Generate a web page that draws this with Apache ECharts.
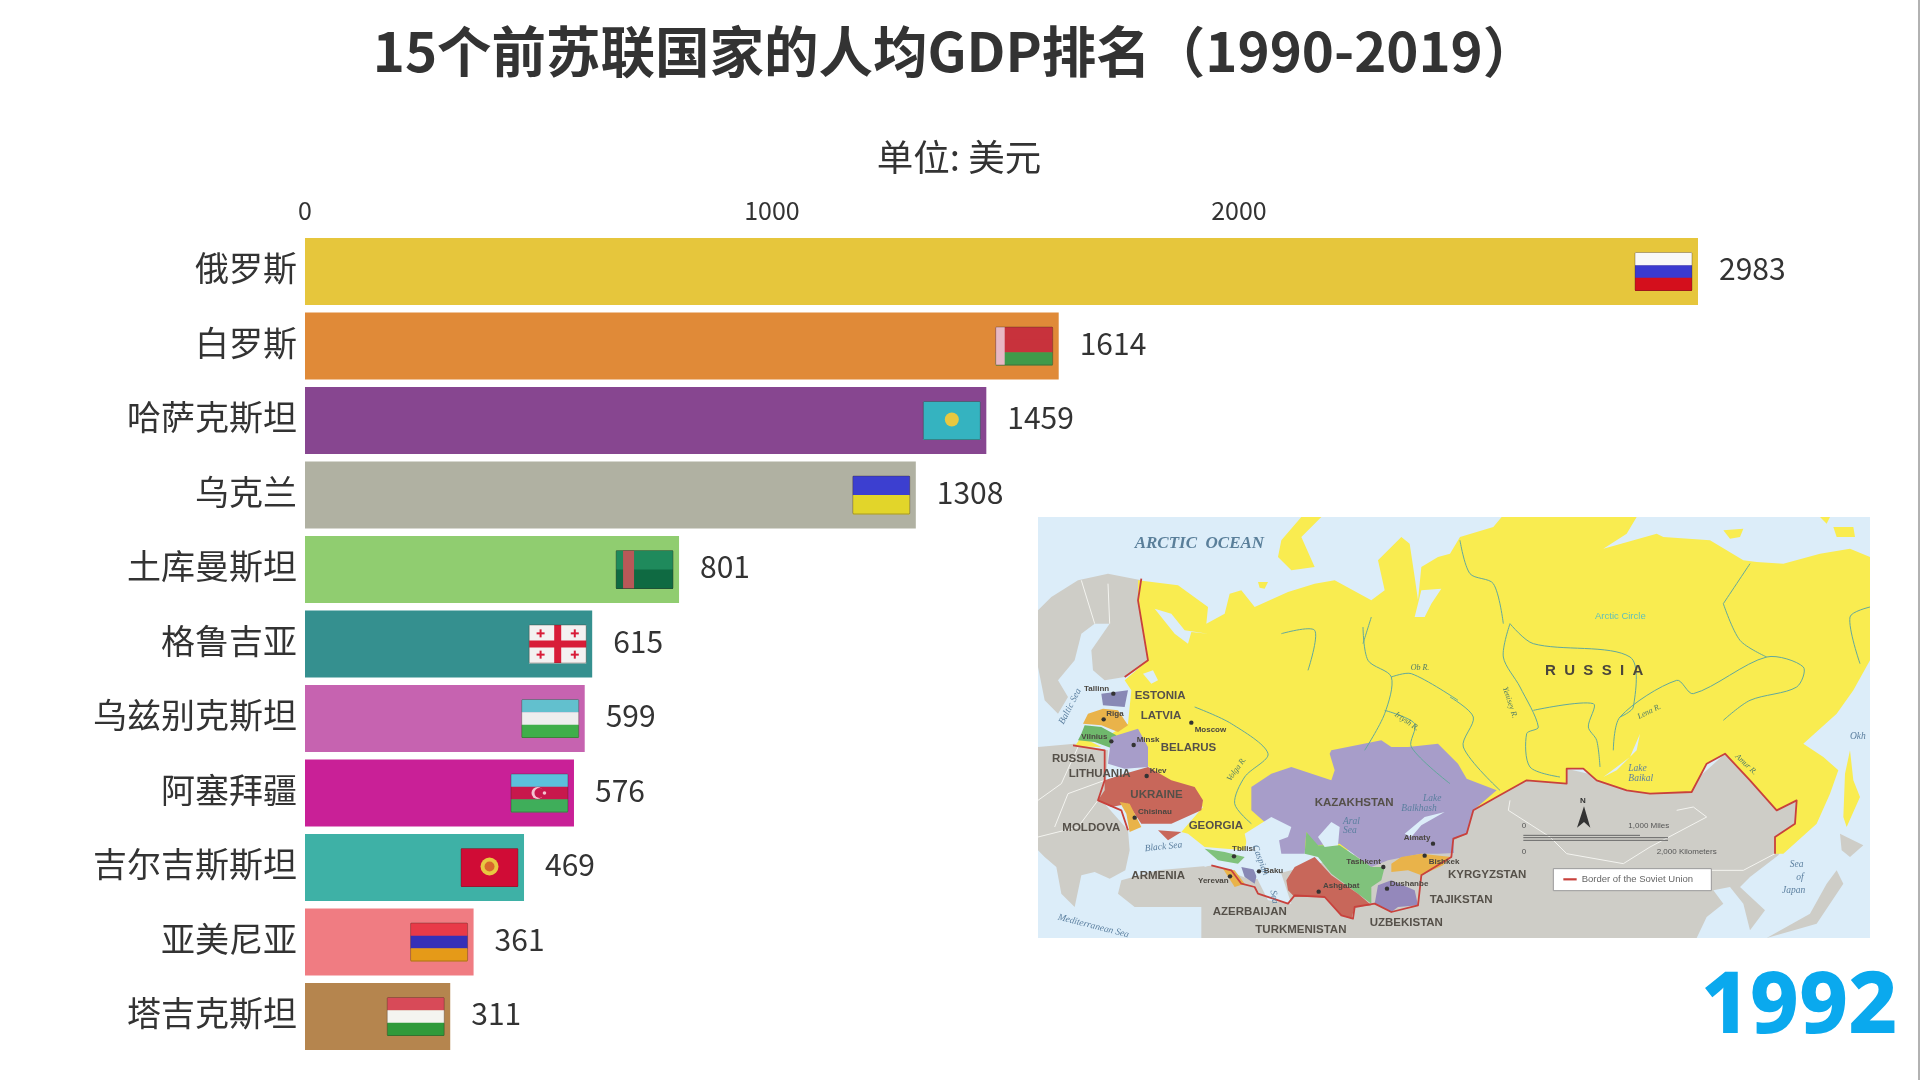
<!DOCTYPE html>
<html><head><meta charset="utf-8">
<style>html,body{margin:0;padding:0;background:#fff}#c{width:1920px;height:1080px}</style>
<script src="https://cdn.jsdelivr.net/npm/echarts@6/dist/echarts.min.js"></script>
</head><body><div id="c"></div>
<script>
const categories=['俄罗斯','白罗斯','哈萨克斯坦','乌克兰','土库曼斯坦','格鲁吉亚','乌兹别克斯坦','阿塞拜疆','吉尔吉斯斯坦','亚美尼亚','塔吉克斯坦'];
const gdpValues=[2983,1614,1459,1308,801,615,599,576,469,361,311];
const barColors=['#e6c63c','#e08a38','#874690','#b0b1a2','#90cd70','#35908f','#c663b0','#c92097','#3eb1a6','#f07c82','#b5854e'];
const flagStripes=[['#f8f8f8','#3a3ad0','#d40f1c'],['#c8323c','#c8323c','#3f9a4a'],['#35b3c0'],['#3c3fd0','#e2d52a'],['#1f8a5c','#0f6a42'],['#f3f1f1'],['#62c0ce','#eeeeee','#3fae4a'],['#5cc0dc','#c8184c','#3fae5a'],['#d00c36'],['#e83a48','#3530b8','#e59a18'],['#d84a58','#f4f4f0','#2f9a3a']];
const flagMarks=['','hoist','sun','','band','cross','','crescent','sun','',''];
const tickLabels=['0','1000','2000'];
const titleText='15个前苏联国家的人均GDP排名（1990-2019）';
const unitText='单位: 美元';
const yearText='1992';

/* inset map, in thirds of a pixel */
const R=a=>a.map(p=>[p[0]+1236,p[1]]);
const grayLand=[
 [[0,280],[40,240],[120,190],[210,170],[310,190],[300,250],[330,430],[260,480],[200,490],[165,460],[160,400],[215,320],[170,320],[130,350],[110,430],[60,490],[90,540],[60,590],[20,550],[0,450]],
 [[0,690],[110,680],[210,700],[200,860],[270,940],[275,1000],[262,1060],[215,1085],[170,1065],[130,1075],[110,1170],[70,1130],[55,1050],[20,1020],[0,1000]],
 [[250,1090],[360,1060],[530,1045],[640,1090],[1000,1000],[1240,960],...R([[50,950],[70,880],[140,840],[230,790],[350,755],[500,790],[725,800],[825,710],[900,790],[980,860],[1040,850],[1035,920],[985,1015],[900,1080],[870,1110],[945,1180],[900,1240],[880,1160],[840,1110],[790,1120],[820,1160],[770,1200],[740,1263]]),[490,1263],[490,1170],[290,1170],[240,1130]],
 R([[1160,1060],[1180,1100],[1100,1220],[950,1263],[1080,1190],[1130,1100]]),
 R([[1170,950],[1240,985],[1200,1020],[1175,1000]])
];
const russiaLand=[
 [[300,190],[420,205],[510,270],[505,320],[560,290],[575,230],[610,220],[650,270],[750,225],[830,200],[890,190],[1000,250],[1040,220],[1020,130],[1090,60],[1115,80],[1130,180],[1140,250],[1150,150],[1200,120],
 ...R([[0,110],[30,60],[130,30],[155,0],[560,0],[530,50],[460,95],[620,50],[640,60],[780,70],[880,130],[920,135],[1000,140],[1110,110],[1200,95],[1260,120],[1260,430],[1210,520],[1160,590],[1060,680],[1120,720],[1165,760],[1140,830],[1100,920],[1000,1010],[975,1010],[975,960],[1035,920],[1040,850],[980,880],[900,790],[825,710],[770,740],[725,825],[600,830],[530,820],[440,790],[400,755],[350,755],[350,800],[230,790],[140,840],[70,880],[50,950],[10,970]]),
 [1240,1000],[800,1000],[700,900],[630,950],[620,1000],[500,990],[450,950],[430,945],[495,870],[320,740],[220,650],[270,620],[280,520],[260,490],[330,430],[320,370],[300,250]],
 [[730,70],[790,0],[850,0],[790,60],[830,150],[760,160],[720,120]],
 [[660,195],[690,195],[680,215],[665,212]],
 [[110,688],[130,660],[190,690]],
 R([[1200,700],[1210,790],[1230,840],[1190,930],[1180,900],[1185,770]]),
 R([[820,40],[880,35],[870,60],[840,65]]),
 R([[1110,0],[1140,0],[1130,20]]),
 R([[1150,30],[1210,30],[1215,60],[1160,60]])
];
const soviets=[
 ['#a79dc9',[[880,700],[1030,670],[1060,690],[1110,690],[1200,680],[1260,740],...R([[50,785],[140,820],[70,880],[50,950],[10,970],[12,1008]]),[1200,1010],[1150,1010],[1050,1030],[1000,1050],[905,980],[830,985],[805,945],[800,1010],[730,1010],[720,950],[640,880],[640,810],[700,770],[760,750],[880,790],[890,760],[875,710]]],
 ['#80c27c',[[805,945],[840,985],[905,985],[1000,1050],[1040,1050],[1030,1090],[1000,1110],[1000,1160],[960,1130],[880,1070],[840,1020],[800,1010]]],
 ['#c8675a',[[745,1090],[770,1050],[830,1020],[880,1075],[960,1130],[1000,1165],[950,1170],[940,1205],[910,1195],[860,1140],[770,1140],[750,1120]]],
 ['#9488bb',[[1020,1105],[1060,1090],[1130,1120],[1140,1165],[1080,1170],[1060,1185],[1010,1160]]],
 ['#e9b34a',[[1060,1040],[1090,1020],[1150,1010],[1240,1020],[1215,1045],[1150,1075],[1110,1060],[1060,1065]]],
 ['#8888b5',[[190,530],[270,520],[260,570],[195,565]]],
 ['#e9b34a',[[135,620],[150,590],[195,575],[240,580],[270,625],[240,645],[190,625]]],
 ['#6fb86c',[[130,650],[140,625],[190,630],[235,655],[225,695],[170,675],[120,670]]],
 ['#a79dc9',[[220,660],[300,635],[330,690],[330,750],[260,755],[210,740],[215,700]]],
 ['#c8675a',[[200,790],[260,770],[330,750],[400,790],[470,810],[495,850],[490,880],[400,920],[310,920],[270,860],[220,870],[180,850],[200,820]]],
 ['#c8675a',[[360,940],[430,945],[390,970]]],
 ['#e9b34a',[[245,855],[275,860],[310,930],[275,945],[265,890]]],
 ['#80c27c',[[500,995],[560,1005],[620,1020],[600,1040],[540,1030]]],
 ['#e9b34a',[[555,1055],[590,1060],[620,1100],[590,1110]]],
 ['#8888b5',[[610,1050],[660,1060],[650,1100],[620,1080]]]
];
const waters=[
 [[620,950],[700,900],[760,930],[750,960],[670,990],[680,1060],[730,1070],[760,1160],[690,1150],[660,1090],[640,1040]],
 [[840,960],[880,915],[905,930],[900,985],[860,990]],
 [[1100,950],[1160,900],[1220,885],[1150,925],[1120,960]],
 [[350,275],[400,290],[440,340],[510,350],[460,345],[450,380],[410,350]],
 [[315,470],[345,460],[360,490],[340,500]],
 [[1130,300],[1150,220],[1210,215],[1180,260],[1160,300]],
 R([[570,650],[540,720],[460,780],[500,760],[560,700]]),
 [[490,1000],[500,1050],[520,1044]]
];
const rivers=[
 [[975,330],[990,430],[1060,480],[1040,590],[980,700]],[[1060,480],[1120,470],[1260,550]],
 [[470,570],[580,620],[690,710],[620,780],[590,860],[640,920]],
 [[1040,580],[1130,620],[1120,690],[1236,800]],
 [[730,350],[830,340],[810,460]],[[1000,300],[975,380]],
 R([[0,540],[70,600],[40,690],[150,820]]),
 R([[180,320],[160,420],[210,510],[265,630],[230,650],[240,750],[330,780]]),
 R([[180,320],[250,380],[540,420],[550,570],[510,600]]),
 R([[490,700],[510,600],[680,490],[730,530],[950,420],[1060,450],[1040,510],[900,550],[820,610]]),
 R([[250,580],[430,560],[415,630],[440,670],[450,750]]),
 R([[820,260],[870,370],[950,420]]),R([[820,260],[900,140]]),R([[1260,270],[1200,300],[1230,440]]),
 R([[30,70],[60,170],[130,200],[160,320]])
];
const whiteBorders=[
 R([[180,850],[175,880],[300,960],[350,1010],[520,1040],[600,990],[770,900],[730,870],[680,880]]),
 R([[620,1060],[880,1060],[975,1010]]),
 [[130,190],[170,320]],[[120,690],[70,800],[0,850]],[[200,790],[90,830],[50,930]],[[180,850],[120,930],[0,960]],[[210,200],[215,320]]
];
const sovietBorder=[
 [[310,185],[300,250],[330,430],[260,480]],
 [[105,685],[200,700],[200,790],[180,850],[250,880],[270,940]],
 [[520,1045],[580,1060],[610,1100],[650,1110],[660,1130],[750,1160],[770,1135],[860,1140],[910,1195],[945,1205],[950,1170],[1010,1160],[1060,1185],[1140,1165],[1150,1075],[1240,1020],[1246,965],
 ...R([[50,950],[70,880],[140,840],[230,790],[350,800],[350,755],[400,755],[440,790],[530,820],[600,830],[725,825],[770,740],[825,710],[900,790],[980,880],[1040,850],[1035,920],[975,960],[975,1010]])]
];
const bigLabels=[['ESTONIA',290,537],['LATVIA',308,597],['BELARUS',368,693],['RUSSIA',42,726],['LITHUANIA',92,770],['UKRAINE',277,833],['MOLDOVA',73,933],['GEORGIA',452,925],['ARMENIA',280,1077],['AZERBAIJAN',524,1185],['TURKMENISTAN',652,1237],['UZBEKISTAN',995,1218],['TAJIKSTAN',1175,1148],['KYRGYZSTAN',1230,1072],['KAZAKHSTAN',830,858]];
const cityLabels=[['Tallinn',138,514],['Riga',205,590],['Vilnius',130,658],['Minsk',296,668],['Moscow',470,637],['Kiev',335,760],['Chisinau',300,885],['Tbilisi',582,995],['Yerevan',480,1092],['Baku',677,1060],['Tashkent',925,1033],['Ashgabat',855,1105],['Dushanbe',1055,1100],['Almaty',1097,963],['Bishkek',1172,1035]];
const cityDots=[[226,530],[197,607],[220,673],[287,684],[460,617],[326,777],[290,902],[588,1018],[576,1078],[663,1063],[1036,1050],[842,1124],[1047,1115],[1185,980],[1160,1016]];
const waterLabels=[['Black Sea',320,995,0.1],['Caspian',650,985,-1.2],['Sea',705,1120,-1.4],['Baltic Sea',70,620,1.1],['Aral',915,912,0],['Sea',915,940,0],['Lake',1155,845,0],['Balkhash',1090,875,0],['Lake',1771,755,0],['Baikal',1771,785,0],['Sea',2255,1043,0],['of',2275,1082,0],['Japan',2232,1120,0],['Okh',2436,658,0],['Mediterranean Sea',60,1200,-0.25]];
const riverLabels=[['Ob R.',1118,452,0],['Irtysh R.',1072,590,-0.6],['Volga R.',572,790,0.95],['Yenisey R.',1400,510,-1.25],['Lena R.',1800,600,0.45],['Amur R.',2095,715,-0.75]];

const F='"Noto Sans CJK SC","Noto Sans",sans-serif';
const S=p=>p.map(q=>[q[0]/3,q[1]/3]);
const poly=(p,fill)=>({type:'polygon',shape:{points:S(p)},style:{fill:fill}});
const line=(p,c,w,sm)=>({type:'polyline',shape:{points:S(p),smooth:sm||0},style:{stroke:c,lineWidth:w,fill:null,lineJoin:'round'}});
const txt=(t,x,y,font,fill,rot)=>({type:'text',x:x/3,y:y/3,rotation:rot||0,style:{text:t,font:font,fill:fill,verticalAlign:'middle',align:'left'}});
const mapKids=[{type:'rect',shape:{x:0,y:0,width:832,height:421},style:{fill:'#dcedf9'}}];
grayLand.forEach(p=>mapKids.push(poly(p,'#cecdc7')));
russiaLand.forEach(p=>mapKids.push(poly(p,'#f9ec50')));
whiteBorders.forEach(p=>mapKids.push(line(p,'#f4f4f0',1)));
soviets.forEach(s=>mapKids.push(poly(s[1],s[0])));
rivers.forEach(p=>mapKids.push(line(p,'#62a89c',1,0.3)));
waters.forEach(p=>mapKids.push(poly(p,'#dcedf9')));
sovietBorder.forEach(p=>mapKids.push(line(p,'#c8413c',1.8)));
cityDots.forEach(d=>mapKids.push({type:'circle',shape:{cx:d[0]/3,cy:d[1]/3,r:2.2},style:{fill:'#333'}}));
bigLabels.forEach(l=>mapKids.push(txt(l[0],l[1],l[2],'bold 11.5px "Liberation Sans"','#555049')));
cityLabels.forEach(l=>mapKids.push(txt(l[0],l[1],l[2],'bold 8px "Liberation Sans Narrow","Liberation Sans"','#4a4640')));
waterLabels.forEach(l=>mapKids.push(txt(l[0],l[1],l[2],'italic 9.5px "Liberation Serif"','#5b7f9f',l[3])));
riverLabels.forEach(l=>mapKids.push(txt(l[0],l[1],l[2],'italic 8px "Liberation Serif"','#4f7a66',l[3])));
mapKids.push(txt('ARCTIC  OCEAN',290,80,'italic bold 17px "Liberation Serif"','#5a7f9a'));
mapKids.push(txt('R  U  S  S  I  A',1521,463,'bold 15px "Liberation Sans"','#4a453c'));
mapKids.push(txt('Arctic Circle',1671,297,'9.5px "Liberation Sans"','#62c0b8'));
mapKids.push(txt('1,000 Miles',1771,925,'8px "Liberation Sans"','#555'));
mapKids.push(txt('2,000 Kilometers',1856,1003,'8px "Liberation Sans"','#555'));
mapKids.push(txt('0',1451,925,'8px "Liberation Sans"','#555'));
mapKids.push(txt('0',1451,1003,'8px "Liberation Sans"','#555'));
mapKids.push(line([[1456,955],[1806,955]],'#666',1));
mapKids.push(line([[1456,962],[1890,962]],'#666',1));
mapKids.push(line([[1456,970],[1890,970]],'#666',1));
mapKids.push(poly([[1638,868],[1657,932],[1638,915],[1617,932]],'#333'));
mapKids.push(txt('N',1626,850,'bold 8px "Liberation Sans"','#333'));
mapKids.push({type:'rect',shape:{x:S([[1546,0]])[0][0],y:1055/3,width:158,height:22},style:{fill:'#fff',stroke:'#999',lineWidth:1}});
mapKids.push(line([[1576,1087],[1616,1087]],'#c8413c',2.2));
mapKids.push(txt('Border of the Soviet Union',1631,1087,'9.5px "Liberation Sans"','#666'));

function renderFlag(params,api){
  const i=params.dataIndex, end=api.coord([api.value(0),api.value(1)]);
  const W=57,H=38,x=end[0]-6-W,y=end[1]-H/2;
  const kids=[],st=flagStripes[i],h=H/st.length;
  st.forEach((c,k)=>kids.push({type:'rect',shape:{x:x,y:y+k*h,width:W,height:h+0.4},style:{fill:c}}));
  const m=flagMarks[i];
  if(m==='hoist')kids.push({type:'rect',shape:{x:x,y:y,width:9,height:H},style:{fill:'#e8b8c4'}});
  if(m==='sun')kids.push({type:'circle',shape:{cx:x+W/2,cy:y+H/2-1,r:i===2?7:9},style:{fill:'#e8c840'}});
  if(m==='sun'&&i===8)kids.push({type:'circle',shape:{cx:x+W/2,cy:y+H/2-1,r:5},style:{fill:'#d8682c'}});
  if(m==='band')kids.push({type:'rect',shape:{x:x+7,y:y,width:11,height:H},style:{fill:'#b85858'}});
  if(m==='cross'){
    kids.push({type:'rect',shape:{x:x+W/2-3.5,y:y,width:7,height:H},style:{fill:'#d81c38'}});
    kids.push({type:'rect',shape:{x:x,y:y+H/2-3.5,width:W,height:7},style:{fill:'#d81c38'}});
    [[.2,.22],[.8,.22],[.2,.78],[.8,.78]].forEach(q=>{
      kids.push({type:'rect',shape:{x:x+W*q[0]-4,y:y+H*q[1]-1,width:8,height:2},style:{fill:'#d81c38'}});
      kids.push({type:'rect',shape:{x:x+W*q[0]-1,y:y+H*q[1]-4,width:2,height:8},style:{fill:'#d81c38'}});
    });
  }
  if(m==='crescent'){
    kids.push({type:'circle',shape:{cx:x+W/2-2,cy:y+H/2,r:6},style:{fill:'#f4c4d0'}});
    kids.push({type:'circle',shape:{cx:x+W/2,cy:y+H/2,r:5},style:{fill:'#c8184c'}});
    kids.push({type:'circle',shape:{cx:x+W/2+5,cy:y+H/2,r:1.8},style:{fill:'#f4c4d0'}});
  }
  kids.push({type:'rect',shape:{x:x,y:y,width:W,height:H,r:1},style:{fill:null,stroke:'rgba(60,40,30,0.35)',lineWidth:1}});
  return {type:'group',children:kids};
}

const chart=echarts.init(document.getElementById('c'),null,{renderer:'canvas'});
chart.setOption({
  animation:false,
  backgroundColor:'#ffffff',
  title:[
    {text:titleText,left:950,top:19,textAlign:'center',textStyle:{fontFamily:F,fontSize:54.5,fontWeight:700,color:'#333'}},
    {text:unitText,left:954,top:134,textAlign:'center',textStyle:{fontFamily:F,fontSize:36.5,fontWeight:400,color:'#333'}},
    {text:yearText,left:1794,top:961,textAlign:'center',textStyle:{fontFamily:'"Noto Sans",sans-serif',fontSize:85,fontWeight:800,color:'#0aa9ee'}}
  ],
  grid:{left:305,right:222,top:234.25,height:819.5,containLabel:false},
  xAxis:{type:'value',position:'top',min:0,max:gdpValues[0],interval:1000,
    axisLine:{show:false},axisTick:{show:false},splitLine:{show:false},
    axisLabel:{show:true,margin:11,showMaxLabel:false,fontFamily:F,fontSize:25,color:'#333',
      formatter:v=>tickLabels[v/1000]||''}},
  yAxis:{type:'category',inverse:true,data:categories,
    axisLine:{show:false},axisTick:{show:false},splitLine:{show:false},
    axisLabel:{margin:8,formatter:'{a|{value}}',rich:{a:{padding:[0,0,6,0],fontFamily:F,fontSize:34,color:'#333'}}}},
  series:[
    {type:'bar',barWidth:67,data:gdpValues.map((v,i)=>({value:v,itemStyle:{color:barColors[i]}})),
      label:{show:true,position:'right',distance:21,offset:[0,-2.5],fontFamily:F,fontSize:30,color:'#333'}},
    {type:'custom',clip:false,z:5,encode:{x:0,y:1},data:gdpValues.map((v,i)=>[v,i]),renderItem:renderFlag}
  ],
  graphic:[
    {type:'group',x:1038,y:517,children:mapKids},
    {type:'rect',shape:{x:1030,y:938,width:850,height:14},style:{fill:'#fff'},z:1},
    {type:'line',shape:{x1:1919,y1:0,x2:1919,y2:1080},style:{stroke:'#999',lineWidth:1.5}}
  ]
});
</script></body></html>
